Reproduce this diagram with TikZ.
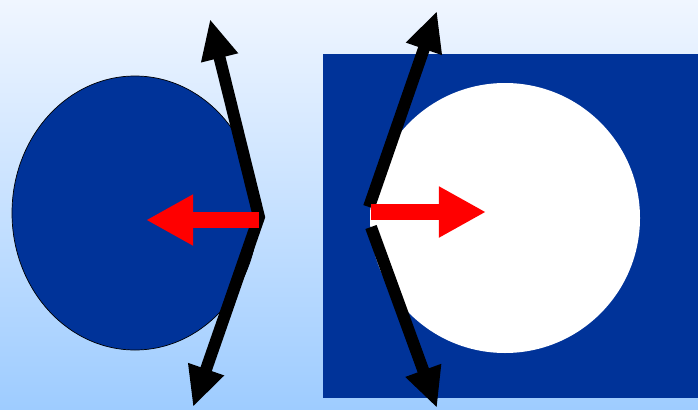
\documentclass[tikz,border=0pt]{standalone}
\usepackage{tikz}
\usetikzlibrary{arrows.meta}
\definecolor{navy}{HTML}{003399}
\definecolor{skytop}{HTML}{F0F6FF}
\definecolor{skybot}{HTML}{9ECCFF}

\begin{document}
\begin{tikzpicture}[x=0.5mm,y=-0.5mm,
		force/.style={line width=17pt, line join=miter},
		blacktip/.style={-{Triangle[length=57pt,width=50pt]}},
		push/.style={red, line width=22pt, -{Triangle[length=67pt,width=68pt]}}]
		\useasboundingbox (0,0) rectangle (698,409);
		\shade[top color=skytop, bottom color=skybot] (0,0) rectangle (698,409);

		% --- LEFT: solid ball, forces pointing outward ---
		\draw[fill=navy, line width=1pt] (135,213) ellipse [x radius=123, y radius=137];
		\coordinate (lv) at (259,217);
		\coordinate (lt) at (210,19);
		\coordinate (lb) at (193,407);
		\draw[force, {Triangle[length=57pt,width=50pt]}-{Triangle[length=57pt,width=50pt]}] (lt) -- (lv) -- (lb);
		\coordinate (lr) at (259,220);
		\coordinate (lp) at (146,220);
		\draw[push] (lr) -- (lp);

		% --- RIGHT: hole in a block ---
		\fill[navy] (323,54) rectangle (698,398);
		\fill[white] (505,218) circle [radius=135];
		\coordinate (ru) at (369,207);
		\coordinate (rt) at (437,11);
		\coordinate (rd) at (371,227);
		\coordinate (rb) at (437,408);
		\draw[force, blacktip] (ru) -- (rt);
		\draw[force, blacktip] (rd) -- (rb);
		\coordinate (rr) at (371,212);
		\coordinate (rp) at (486,212);
		\draw[push, line width=24pt] (rr) -- (rp);
	\end{tikzpicture}
\end{document}
